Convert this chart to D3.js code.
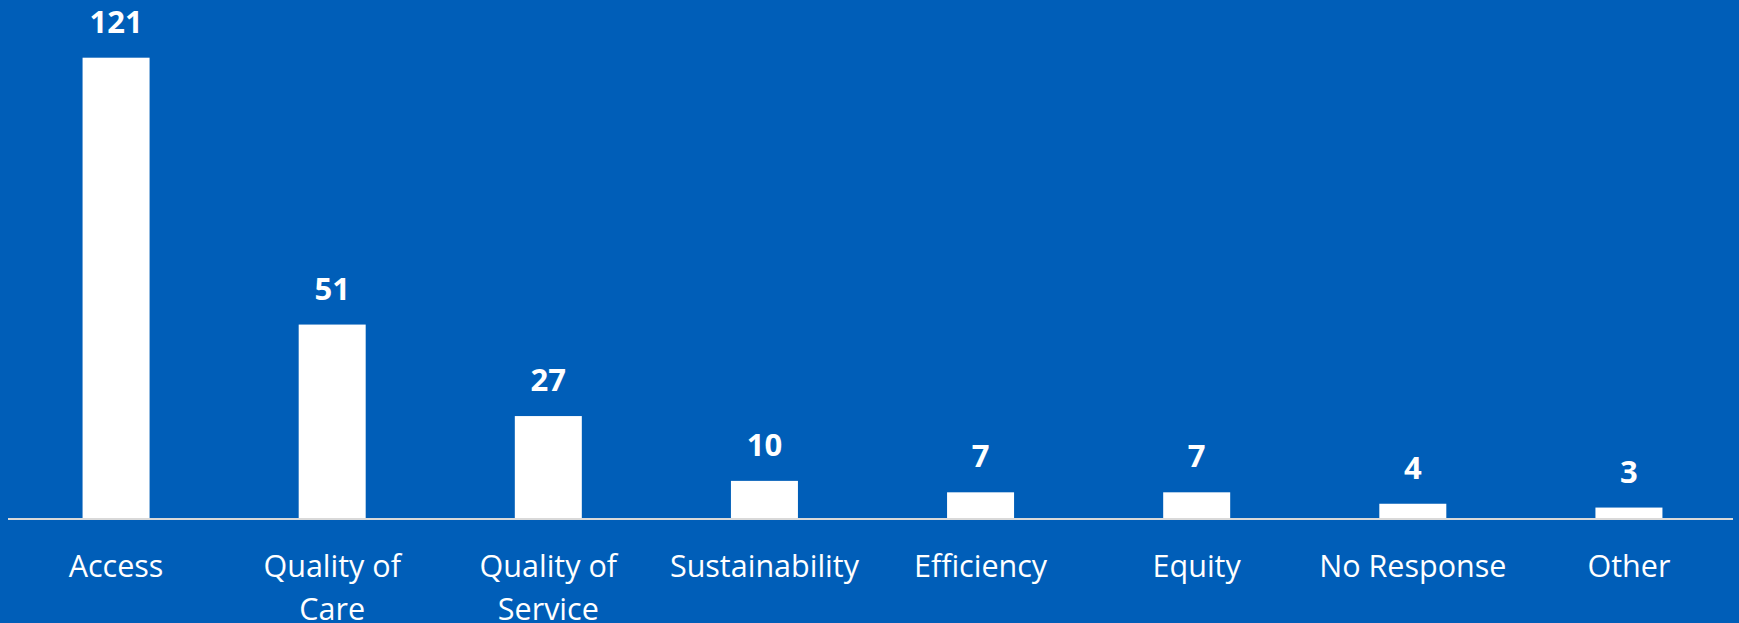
<!DOCTYPE html>
<html>
<head>
<meta charset="utf-8">
<script src="https://cdn.jsdelivr.net/npm/d3@7"></script>
<style>
  html, body { margin: 0; padding: 0; background: #005EB8; }
  svg { display: block; }
</style>
</head>
<body>
<svg id="chart" width="1739" height="623"></svg>
<script>
// Responses grouped by theme
const categories = ["Access", "Quality of Care", "Quality of Service", "Sustainability", "Efficiency", "Equity", "No Response", "Other"];
const values = [121, 51, 27, 10, 7, 7, 4, 3];
// Category labels split onto lines
const labelLines = [["Access"], ["Quality of", "Care"], ["Quality of", "Service"], ["Sustainability"], ["Efficiency"], ["Equity"], ["No Response"], ["Other"]];

const W = 1739, H = 623;
const baseY = 519;
const svg = d3.select("#chart");

svg.append("rect").attr("width", W).attr("height", H).attr("fill", "#005EB8");

const x = d3.scaleBand()
  .domain(categories)
  .range([8, 1737])
  .paddingInner(0.69)
  .paddingOuter(0.345);

const y = d3.scaleLinear()
  .domain([0, 121])
  .range([baseY, 57.7]);

const data = categories.map((c, i) => ({ cat: c, value: values[i], lines: labelLines[i] }));

// Bars
svg.append("g").selectAll("rect")
  .data(data)
  .join("rect")
  .attr("x", d => x(d.cat))
  .attr("y", d => y(d.value))
  .attr("width", x.bandwidth())
  .attr("height", d => y(0) - y(d.value))
  .attr("fill", "#ffffff");

// Baseline axis
const axis = svg.append("g")
  .attr("transform", `translate(0,${baseY})`)
  .call(d3.axisBottom(x).tickSize(0).tickFormat(""));
axis.select(".domain")
  .attr("d", `M8,0H1733`)
  .attr("stroke", "#d9d9d9")
  .attr("stroke-width", 2);

// Value labels
svg.append("g").selectAll("text")
  .data(data)
  .join("text")
  .attr("x", d => x(d.cat) + x.bandwidth() / 2)
  .attr("y", d => y(d.value) - 25)
  .attr("text-anchor", "middle")
  .attr("fill", "#ffffff")
  .attr("font-family", "'Open Sans', sans-serif")
  .attr("font-weight", 700)
  .attr("font-size", 31)
  .text(d => d.value);

// Category labels
const cat = svg.append("g").selectAll("text")
  .data(data)
  .join("text")
  .attr("x", d => x(d.cat) + x.bandwidth() / 2)
  .attr("y", 577)
  .attr("text-anchor", "middle")
  .attr("fill", "#ffffff")
  .attr("font-family", "'Open Sans', sans-serif")
  .attr("font-size", 30.5);
cat.selectAll("tspan")
  .data(d => d.lines)
  .join("tspan")
  .attr("x", function() { return d3.select(this.parentNode).attr("x"); })
  .attr("dy", (d, i) => i === 0 ? 0 : 43)
  .text(d => d);
</script>
</body>
</html>
